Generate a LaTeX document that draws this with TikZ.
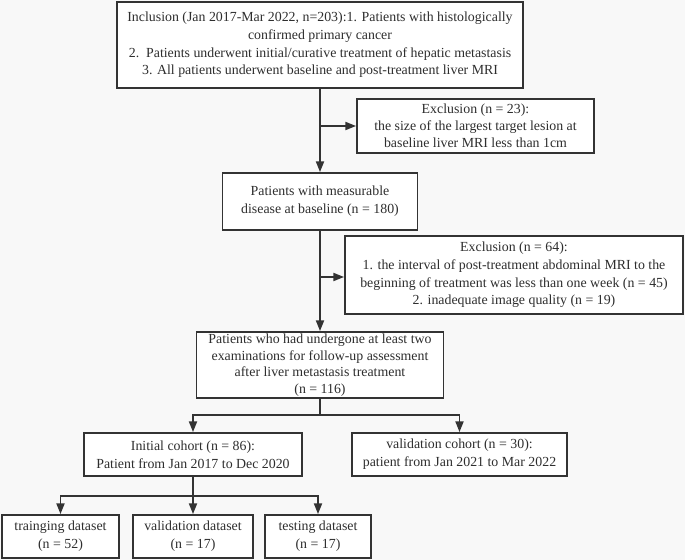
\documentclass[tikz,border=0pt]{standalone}
\usepackage{fontspec}
\setmainfont{Liberation Serif}
\usetikzlibrary{arrows.meta}
\definecolor{ln}{HTML}{333333}
\definecolor{tx}{HTML}{2E2E2E}
\definecolor{bg}{HTML}{F8F8F8}
\begin{document}
\begin{tikzpicture}[x=0.75pt,y=-0.75pt,
  box/.style={draw=ln,line width=1.4pt,fill=white,inner sep=0pt,align=center,
    text=tx,font=\fontsize{10.4}{13.3}\selectfont},
  arr/.style={draw=ln,line width=1.3pt,-{Triangle[length=8pt,width=6pt]}},
  con/.style={draw=ln,line width=1.3pt}]
\fill[bg] (0,0) rectangle (685,560);
\useasboundingbox (0,0) rectangle (685,560);
\node[box,minimum width=406*0.75pt,minimum height=86*0.75pt] (b1) at (320,45)
  {Inclusion (Jan 2017-Mar 2022, n=203):1. Patients with histologically\\
   confirmed primary cancer\\
   2.\ \ Patients underwent initial/curative treatment of hepatic metastasis\\
   3. All patients underwent baseline and post-treatment liver MRI};
\node[box,minimum width=237*0.75pt,minimum height=54*0.75pt,font=\fontsize{10.4}{12.6}\selectfont] (e1) at (475.5,126)
  {Exclusion (n = 23):\\ the size of the largest target lesion at\\ baseline liver MRI less than 1cm};
\node[box,minimum width=195*0.75pt,minimum height=57*0.75pt] (b2) at (320,201.5)
  {Patients with measurable\\ disease at baseline (n = 180)};
\node[box,minimum width=338*0.75pt,minimum height=78*0.75pt] (e2) at (514,275)
  {Exclusion (n = 64):\\ 1. the interval of post-treatment abdominal MRI to the\\
   beginning of treatment was less than one week (n = 45)\\ 2. inadequate image quality (n = 19)};
\node[box,minimum width=247*0.75pt,minimum height=66*0.75pt,font=\fontsize{10.4}{12.4}\selectfont] (b3) at (320,365)
  {Patients who had undergone at least two\\ examinations for follow-up assessment\\
   after liver metastasis treatment\\ (n = 116)};
\node[box,minimum width=218*0.75pt,minimum height=43*0.75pt] (ini) at (193,454.5)
  {Initial cohort (n = 86):\\ Patient from Jan 2017 to Dec 2020};
\node[box,minimum width=215*0.75pt,minimum height=43*0.75pt] (vc) at (459.5,454.5)
  {validation cohort (n = 30):\\ patient from Jan 2021 to Mar 2022};
\node[box,minimum width=117*0.75pt,minimum height=43*0.75pt] (tr) at (60.5,536.5)
  {trainging dataset\\ (n = 52)};
\node[box,minimum width=120*0.75pt,minimum height=43*0.75pt] (vd) at (193,536.5)
  {validation dataset\\ (n = 17)};
\node[box,minimum width=106*0.75pt,minimum height=43*0.75pt] (te) at (318,536.5)
  {testing dataset\\ (n = 17)};
\coordinate (j1) at (320,415);
\coordinate (j2) at (193,496);
\draw[arr] (b1.south) -- (b2.north);
\draw[arr] (e1.west -| b1.south) -- (e1.west);
\draw[arr] (b2.south) -- (b3.north);
\draw[arr] ([yshift=-1.5pt]e2.west -| b2.south) -- ([yshift=-1.5pt]e2.west);
\draw[con] (b3.south) -- (j1);
\draw[arr] (j1) -| (ini.north);
\draw[arr] (j1) -| (vc.north);
\draw[arr] (ini.south) -- (vd.north);
\draw[arr] (j2) -| (tr.north);
\draw[arr] (j2) -| (te.north);
\end{tikzpicture}
\end{document}
